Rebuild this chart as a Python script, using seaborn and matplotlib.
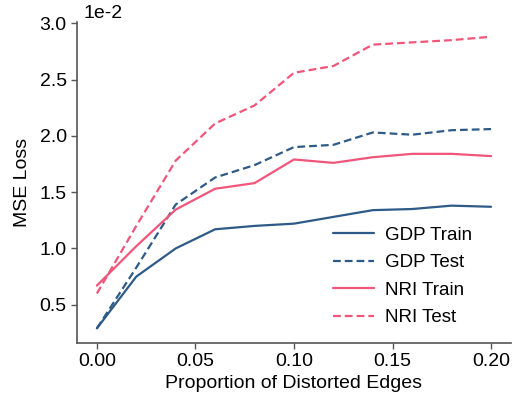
import numpy as np
import pandas as pd
import matplotlib
matplotlib.use("Agg")
import matplotlib.pyplot as plt
import seaborn as sns

x = [0.00, 0.02, 0.04, 0.06, 0.08, 0.10, 0.12, 0.14, 0.16, 0.18, 0.20]
gdp_train = [0.29, 0.75, 1.00, 1.17, 1.20, 1.22, 1.28, 1.34, 1.35, 1.38, 1.37]
gdp_test = [0.29, 0.83, 1.39, 1.63, 1.74, 1.90, 1.92, 2.03, 2.01, 2.05, 2.06]
nri_train = [0.67, 1.02, 1.345, 1.53, 1.58, 1.79, 1.76, 1.81, 1.84, 1.84, 1.82]
nri_test = [0.60, 1.20, 1.78, 2.11, 2.27, 2.56, 2.62, 2.81, 2.83, 2.85, 2.88]
labels = ["GDP Train", "GDP Test", "NRI Train", "NRI Test"]

BLUE = "#2e5a87"
PINK = "#f0557a"

sns.set_theme(style="ticks")
plt.rcParams['font.family'] = ['Liberation Sans', 'DejaVu Sans']
for k in ["text.color", "axes.labelcolor", "xtick.color", "ytick.color"]:
    plt.rcParams[k] = "black"

rows = []
for lab, vals in zip(labels, [gdp_train, gdp_test, nri_train, nri_test]):
    for xi, v in zip(x, vals):
        rows.append({"x": xi, "y": v, "series": lab})
df = pd.DataFrame(rows)

fig = plt.figure(figsize=(5.18, 4.03), dpi=100)
ax = fig.add_axes([0.149, 0.149, 0.837, 0.796])

palette = {"GDP Train": BLUE, "GDP Test": BLUE, "NRI Train": PINK, "NRI Test": PINK}
dashes = {"GDP Train": "", "GDP Test": (3.5, 1.8), "NRI Train": "", "NRI Test": (3.5, 1.8)}
sns.lineplot(data=df, x="x", y="y", hue="series", style="series",
             palette=palette, dashes=dashes, hue_order=labels, style_order=labels,
             linewidth=1.6, ax=ax)

ax.set_xticks([0.0, 0.05, 0.10, 0.15, 0.20])
ax.set_xticklabels(["0.00", "0.05", "0.10", "0.15", "0.20"])
ax.set_yticks([0.5, 1.0, 1.5, 2.0, 2.5, 3.0])
ax.set_yticklabels(["0.5", "1.0", "1.5", "2.0", "2.5", "3.0"])
ax.tick_params(labelsize=14, length=4, width=1, color="#555555", labelcolor="black")
ax.set_xlabel("Proportion of Distorted Edges", fontsize=14, labelpad=3)
ax.set_ylabel("MSE Loss", fontsize=14, labelpad=6)
ax.text(0.015, 1.0, "1e-2", transform=ax.transAxes, fontsize=14, ha="left", va="bottom")
for s in ["left", "bottom"]:
    ax.spines[s].set_color("#555555")
    ax.spines[s].set_linewidth(1.2)
sns.despine(ax=ax)

leg = ax.legend(frameon=False, fontsize=13.5, loc="lower right", handlelength=2.2,
                labelspacing=0.55, handletextpad=0.6, bbox_to_anchor=(0.95, 0.0))

fig.savefig("out.png", dpi=100)
